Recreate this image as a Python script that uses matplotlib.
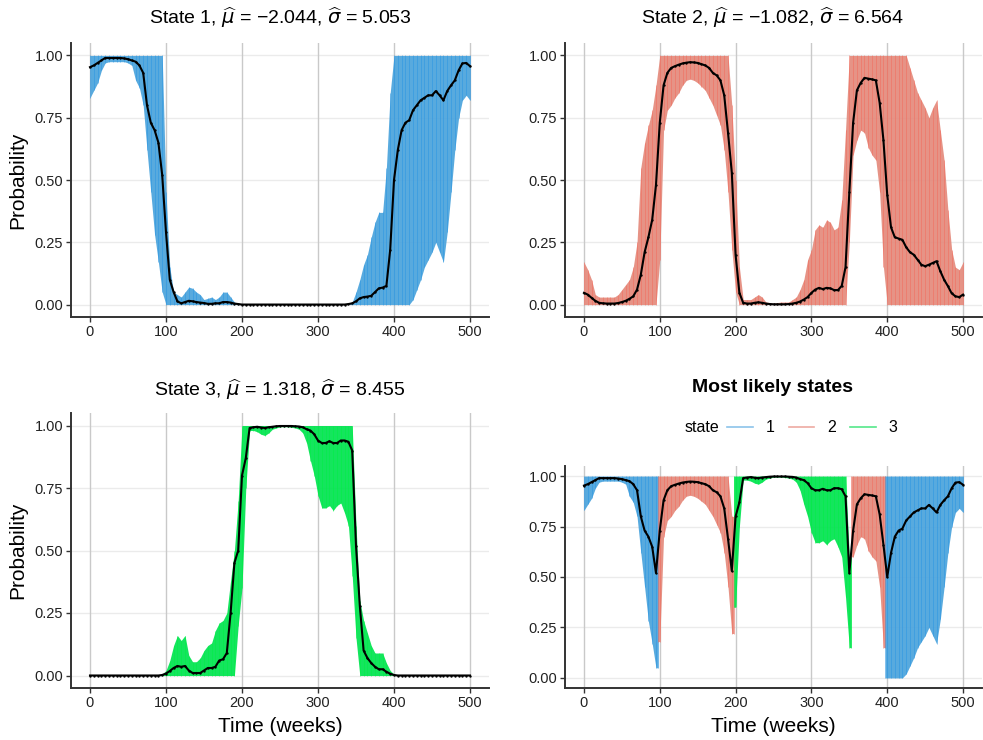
import numpy as np
import matplotlib
matplotlib.use("Agg")
import matplotlib.pyplot as plt
from matplotlib.lines import Line2D

plt.rcParams["font.family"] = ["Liberation Sans", "DejaVu Sans"]
plt.rcParams["mathtext.fontset"] = "dejavusans"

# time grid (weeks)
weeks = np.arange(0, 505, 5)

# --- State 1: posterior mean and credible band ---
s1_mean = ([0.953, 0.96, 0.97, 0.98, 0.99, 0.99, 0.99, 0.99, 0.99, 0.988,
            0.985, 0.98, 0.975, 0.96, 0.93, 0.80, 0.73, 0.70, 0.65, 0.52,
            0.29, 0.10, 0.05, 0.013, 0.005, 0.01, 0.015, 0.013, 0.01, 0.008,
            0.006, 0.003, 0.003, 0.005, 0.005, 0.01, 0.01, 0.008, 0.004, 0.002]
           + [0.0] * 28 + [0.002, 0.005,
            0.013, 0.025, 0.03, 0.032, 0.035, 0.05, 0.065, 0.068, 0.075, 0.22,
            0.50, 0.62, 0.70, 0.73, 0.74, 0.78, 0.80, 0.82, 0.83, 0.84,
            0.84, 0.857, 0.84, 0.82, 0.857, 0.88, 0.90, 0.94, 0.968, 0.97,
            0.957])
s1_lower = ([0.83, 0.86, 0.89, 0.94, 0.97, 0.975, 0.975, 0.975, 0.975, 0.975,
             0.97, 0.96, 0.90, 0.87, 0.80, 0.62, 0.45, 0.28, 0.17, 0.05]
            + [0.0] * 65 +
            [0.02, 0.06, 0.10, 0.15, 0.18, 0.21, 0.25, 0.21, 0.17, 0.29,
             0.45, 0.62, 0.75, 0.82, 0.84, 0.82])
s1_upper = ([1.0] * 20 +
            [0.45, 0.15, 0.05, 0.04, 0.03, 0.05, 0.07, 0.065, 0.05, 0.04,
             0.02, 0.025, 0.03, 0.02, 0.03, 0.05, 0.05, 0.03, 0.01, 0.003]
            + [0.0] * 29 +
            [0.01, 0.05, 0.10, 0.16, 0.20, 0.27, 0.33, 0.37, 0.37, 0.55, 0.85]
            + [1.0] * 21)

# --- State 2 ---
s2_mean = [0.047, 0.04, 0.027, 0.015, 0.007, 0.005, 0.004, 0.004, 0.004, 0.006,
           0.01, 0.015, 0.023, 0.033, 0.06, 0.12, 0.21, 0.27, 0.34, 0.48,
           0.73, 0.88, 0.93, 0.95, 0.957, 0.963, 0.968, 0.971, 0.973, 0.972,
           0.97, 0.965, 0.96, 0.95, 0.93, 0.92, 0.90, 0.84, 0.69, 0.53,
           0.20, 0.047, 0.007, 0.004, 0.004, 0.007, 0.009, 0.007, 0.004, 0.002,
           0.001, 0.001, 0.001, 0.001, 0.002, 0.004, 0.007, 0.012, 0.02, 0.03,
           0.047, 0.06, 0.067, 0.062, 0.067, 0.065, 0.058, 0.058, 0.075, 0.15,
           0.45, 0.73, 0.86, 0.89, 0.91, 0.907, 0.904, 0.90, 0.81, 0.66,
           0.44, 0.31, 0.27, 0.265, 0.26, 0.23, 0.21, 0.20, 0.18, 0.16,
           0.154, 0.16, 0.167, 0.174, 0.134, 0.10, 0.074, 0.045, 0.033, 0.03,
           0.04]
s2_lower = ([0.0] * 20 +
            [0.18, 0.70, 0.78, 0.80, 0.83, 0.85, 0.88, 0.90, 0.905, 0.90,
             0.89, 0.875, 0.86, 0.83, 0.80, 0.76, 0.72, 0.62, 0.45, 0.22, 0.05]
            + [0.0] * 29 +
            [0.25, 0.60, 0.66, 0.70, 0.69, 0.63, 0.60, 0.58, 0.45, 0.15]
            + [0.0] * 21)
s2_upper = ([0.17, 0.14, 0.10, 0.04, 0.03, 0.03, 0.03, 0.03, 0.03, 0.04,
             0.06, 0.08, 0.10, 0.15, 0.25, 0.55, 0.65, 0.72, 0.78, 0.88]
            + [1.0] * 19 +
            [0.80, 0.50, 0.15, 0.02, 0.02, 0.02, 0.03, 0.04, 0.03, 0.01,
             0.008, 0.005, 0.008, 0.01, 0.01, 0.01, 0.02, 0.03, 0.06, 0.10,
             0.18, 0.22, 0.30, 0.32, 0.31, 0.34, 0.33, 0.30, 0.31, 0.42, 0.70]
            + [1.0] * 16 +
            [0.95, 0.90, 0.85, 0.82, 0.79, 0.75, 0.79, 0.82, 0.70, 0.58,
             0.38, 0.22, 0.15, 0.14, 0.17])

# --- State 3 ---
s3_mean = ([0.0] * 19 + [0.002,
            0.008, 0.018, 0.03, 0.038, 0.035, 0.038, 0.02, 0.01, 0.01, 0.01,
            0.02, 0.03, 0.03, 0.035, 0.06, 0.065, 0.09, 0.25, 0.45, 0.50,
            0.80, 0.87, 0.99, 0.993, 0.995, 0.992, 0.99, 0.993, 0.995, 0.997,
            0.998, 0.998, 0.998, 0.998, 0.997, 0.996, 0.993, 0.985, 0.98, 0.965,
            0.94, 0.93, 0.93, 0.937, 0.93, 0.93, 0.94, 0.94, 0.935, 0.90,
            0.52, 0.28, 0.10, 0.07, 0.05, 0.035, 0.025, 0.025, 0.015, 0.007,
            0.002] + [0.0] * 20)
s3_lower = ([0.0] * 39 +
            [0.20, 0.35, 0.75, 0.98, 0.98, 0.975, 0.965, 0.96, 0.97, 0.985,
             0.99, 0.995, 0.995, 0.995, 0.993, 0.99, 0.985, 0.97, 0.93, 0.86,
             0.80, 0.72, 0.67, 0.67, 0.68, 0.66, 0.68, 0.69, 0.65, 0.60, 0.40,
             0.15] + [0.0] * 30)
s3_upper = ([0.0] * 19 + [0.005,
             0.02, 0.06, 0.12, 0.16, 0.14, 0.16, 0.08, 0.055, 0.055, 0.07,
             0.10, 0.12, 0.13, 0.18, 0.21, 0.22, 0.25, 0.38, 0.50, 0.70]
            + [1.0] * 30 +
            [0.60, 0.30, 0.22, 0.17, 0.12, 0.09, 0.09, 0.09, 0.05, 0.02,
             0.005] + [0.0] * 20)

state_names = ["1", "2", "3"]
mu_hat = ["\u22122.044", "\u22121.082", "1.318"]
sigma_hat = ["5.053", "6.564", "8.455"]

fill_cols = ["#4aa3dc", "#e48a7c", "#00e34f"]
stripe_cols = ["#2a95e2", "#f26a5c", "#00f044"]
legend_cols = ["#8cc4ea", "#eeaaa2", "#55e88a"]

means = np.array([s1_mean, s2_mean, s3_mean])
lowers = np.array([s1_lower, s2_lower, s3_lower])
uppers = np.array([s1_upper, s2_upper, s3_upper])

W, H = 983, 740
fig = plt.figure(figsize=(W / 100, H / 100), dpi=100)


def px_axes(left, top, right, bottom):
    return fig.add_axes([left / W, 1 - bottom / H, (right - left) / W, (bottom - top) / H])


def style(ax):
    ax.set_xlim(-25, 525)
    ax.set_ylim(-0.05, 1.05)
    ax.set_xticks([0, 100, 200, 300, 400, 500])
    ax.set_yticks([0, 0.25, 0.5, 0.75, 1.0])
    ax.set_yticklabels(["0.00", "0.25", "0.50", "0.75", "1.00"])
    for y in [0, 0.25, 0.5, 0.75, 1.0]:
        ax.axhline(y, color="#ebebeb", lw=1.0, zorder=0)
    for x in [0, 100, 200, 300, 400, 500]:
        ax.axvline(x, color="#c9c9c9", lw=1.0, zorder=0.5)
    for s in ["top", "right"]:
        ax.spines[s].set_visible(False)
    for s in ["left", "bottom"]:
        ax.spines[s].set_color("#333333")
        ax.spines[s].set_linewidth(1.4)
    ax.tick_params(colors="#333333", labelcolor="#222222", labelsize=10.5,
                   length=3.5, width=1.0, pad=2)


def band(ax, x, lo, hi, k):
    ax.fill_between(x, lo, hi, color=fill_cols[k], lw=0, alpha=0.92, zorder=1)
    ax.vlines(x, lo, hi, colors=stripe_cols[k], lw=0.6, alpha=0.6, zorder=1.2)


def mean_line(ax, x, y):
    ax.plot(x, y, color="black", lw=1.5, zorder=3)
    ax.plot(x, y, "o", color="black", ms=0.7, zorder=3)


boxes = [(71, 43, 489, 317), (565, 43, 982, 317), (71, 413, 489, 688)]
title_pos = [(280, 18), (773, 18), (280, 390)]

for k in range(3):
    ax = px_axes(*boxes[k])
    style(ax)
    band(ax, weeks, lowers[k], uppers[k], k)
    mean_line(ax, weeks, means[k])
    fig.text(title_pos[k][0] / W, 1 - title_pos[k][1] / H,
             "State %s, $\\widehat{\\mu}$ = %s, $\\widehat{\\sigma}$ = %s"
             % (state_names[k], mu_hat[k], sigma_hat[k]),
             ha="center", va="center", fontsize=14)

# most likely states panel
ax = px_axes(565, 466, 982, 688)
style(ax)
best = np.argmax(means, axis=0)
idx = np.arange(len(weeks))
best_mean = means[best, idx]
best_lo = lowers[best, idx]
best_hi = uppers[best, idx]

start = 0
for i in range(1, len(weeks) + 1):
    if i == len(weeks) or best[i] != best[start]:
        k = best[start]
        xs = list(weeks[start:i])
        lo = list(best_lo[start:i])
        hi = list(best_hi[start:i])
        if start > 0:
            xs = [xs[0] - 2.5] + xs
            lo = [lo[0]] + lo
            hi = [hi[0]] + hi
        if i < len(weeks):
            xs = xs + [xs[-1] + 2.5]
            lo = lo + [lo[-1]]
            hi = hi + [hi[-1]]
        band(ax, np.array(xs), np.array(lo), np.array(hi), k)
        start = i
mean_line(ax, weeks, best_mean)

fig.text(773 / W, 1 - 387 / H, "Most likely states", ha="center", va="center",
         fontsize=14, fontweight="bold")
fig.text(702 / W, 1 - 428 / H, "state", ha="center", va="center", fontsize=11.5)
handles = [Line2D([], [], color=c, lw=1.2) for c in legend_cols]
fig.legend(handles, state_names, loc="center left", bbox_to_anchor=(727 / W, 1 - 428 / H),
           ncol=3, frameon=False, fontsize=11.5, handlelength=1.6,
           handletextpad=0.8, columnspacing=0.9, borderpad=0, borderaxespad=0)

# axis labels
for yc in [180, 550]:
    fig.text(18 / W, 1 - yc / H, "Probability", rotation=90, ha="center",
             va="center", fontsize=15)
for xc in [280, 773]:
    fig.text(xc / W, 1 - 727 / H, "Time (weeks)", ha="center", va="center",
             fontsize=15)

fig.savefig("out.png", dpi=100)
